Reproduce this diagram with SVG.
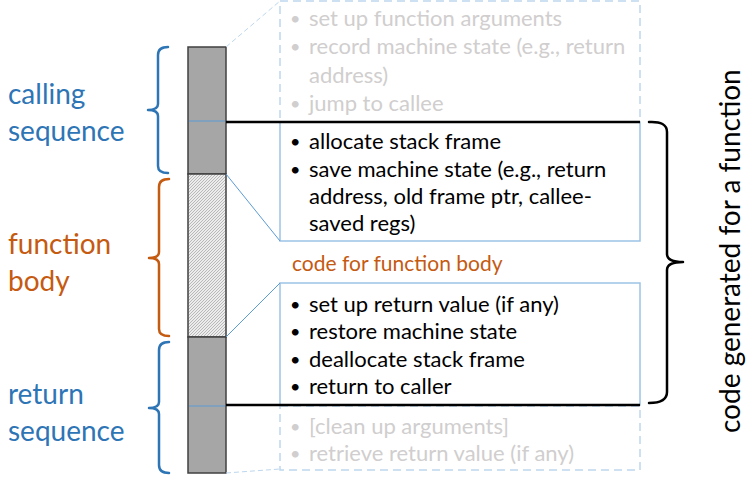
<svg xmlns="http://www.w3.org/2000/svg" width="750" height="484" viewBox="0 0 750 484">
<style>
text{font-family:Lato,"Open Sans","Liberation Sans",sans-serif}
.lbl{font-size:28px}
.blue{fill:#2e75b6}
.orange{fill:#c55a11}
.item{font-size:22px;fill:#000}
.faint{font-size:22px;fill:#d0cece}
.bul{font-size:18px}
.brace{fill:none;stroke-width:2.5;stroke-linecap:round;stroke-linejoin:round}
.box{fill:#fff;stroke:#9dc3e6;stroke-width:1.5}
.dbox{fill:none;stroke:#bdd7ee;stroke-width:1.5;stroke-dasharray:8 5}
.thin{stroke:#5b9bd5;stroke-width:1}
.dthin{stroke:#bdd7ee;stroke-width:1;stroke-dasharray:5 3}
.bar{stroke:#404040;stroke-width:1.5}
</style>
<defs>
<pattern id="hatch" width="3" height="3" patternUnits="userSpaceOnUse">
<rect width="3" height="3" fill="#ececec"/>
<path d="M-1,1 l2,-2 M0,3 l3,-3 M2,4 l2,-2" stroke="#ababab" stroke-width="0.8"/>
</pattern>
</defs>
<rect width="750" height="484" fill="#fff"/>

<g id="stack-bar">
<rect x="188" y="47" width="38" height="127" fill="#a6a6a6" class="bar"/>
<rect x="188" y="174" width="38" height="163" fill="url(#hatch)" class="bar"/>
<rect x="188" y="337" width="38" height="136" fill="#a6a6a6" class="bar"/>
<line x1="189" y1="121" x2="225" y2="121" class="thin"/>
<line x1="189" y1="406" x2="225" y2="406" class="thin"/>
</g>

<g id="calling-sequence">
<path class="brace" stroke="#2e75b6" d="M168,47 Q158,47 158,55 L158,104 Q158,110 148,110 Q158,110 158,116 L158,166 Q158,173 168,173"/>
<text class="lbl blue" x="8" y="104">calling</text>
<text class="lbl blue" x="8" y="141">sequence</text>
</g>

<g id="function-body">
<path class="brace" stroke="#c55a11" d="M169,179 Q159,179 159,187 L159,252 Q159,258 149,258 Q159,258 159,264 L159,329 Q159,336 169,336"/>
<text class="lbl orange" x="8" y="254">function</text>
<text class="lbl orange" x="8" y="291">body</text>
</g>

<g id="return-sequence">
<path class="brace" stroke="#2e75b6" d="M169,342 Q159,342 159,350 L159,402 Q159,408 149,408 Q159,408 159,414 L159,465 Q159,473 169,473"/>
<text class="lbl blue" x="8" y="404">return</text>
<text class="lbl blue" x="8" y="441">sequence</text>
</g>

<g id="caller-prologue">
<rect x="280" y="1" width="360" height="121" class="dbox"/>
<text class="faint bul" x="290" y="25">•</text><text class="faint" x="309" y="26">set up function arguments</text>
<text class="faint bul" x="290" y="53">•</text><text class="faint" x="309" y="54">record machine state (e.g., return</text>
<text class="faint" x="309" y="83">address)</text>
<text class="faint bul" x="290" y="110">•</text><text class="faint" x="309" y="111">jump to callee</text>
</g>

<g id="callee-prologue">
<rect x="280" y="122" width="360" height="119" class="box"/>
<text class="item bul" x="290" y="148">•</text><text class="item" x="309" y="149">allocate stack frame</text>
<text class="item bul" x="290" y="176">•</text><text class="item" x="309" y="177">save machine state (e.g., return</text>
<text class="item" x="309" y="204">address, old frame ptr, callee-</text>
<text class="item" x="309" y="231">saved regs)</text>
</g>

<g id="body-label">
<text x="292" y="271" font-size="21" class="orange">code for function body</text>
</g>

<g id="callee-epilogue">
<rect x="280" y="283" width="360" height="122" class="box"/>
<text class="item bul" x="290" y="311">•</text><text class="item" x="309" y="312">set up return value (if any)</text>
<text class="item bul" x="290" y="338">•</text><text class="item" x="309" y="339">restore machine state</text>
<text class="item bul" x="290" y="366">•</text><text class="item" x="309" y="367">deallocate stack frame</text>
<text class="item bul" x="290" y="393">•</text><text class="item" x="309" y="394">return to caller</text>
</g>

<g id="caller-epilogue">
<rect x="280" y="406" width="360" height="64" class="dbox"/>
<text class="faint bul" x="290" y="433">•</text><text class="faint" x="309" y="434">[clean up arguments]</text>
<text class="faint bul" x="290" y="460">•</text><text class="faint" x="309" y="461">retrieve return value (if any)</text>
</g>

<g id="function-code">
<path class="brace" stroke="#000" d="M649,122 Q667,121 667,132 L667,254 Q667,262 683,262 Q667,262 667,270 L667,392 Q667,403 649,403"/>
<text class="lbl" fill="#000" transform="translate(740,433) rotate(-90)">code generated for a function</text>
</g>

<g id="connectors">
<line x1="226" y1="47" x2="280" y2="1" class="dthin"/>
<line x1="226" y1="174" x2="280" y2="241" class="thin"/>
<line x1="226" y1="337" x2="280" y2="283" class="thin"/>
<line x1="226" y1="473" x2="280" y2="469" class="dthin"/>
<line x1="226" y1="122" x2="640" y2="122" stroke="#000" stroke-width="2.5"/>
<line x1="226" y1="405" x2="640" y2="405" stroke="#000" stroke-width="2.5"/>
</g>
</svg>
